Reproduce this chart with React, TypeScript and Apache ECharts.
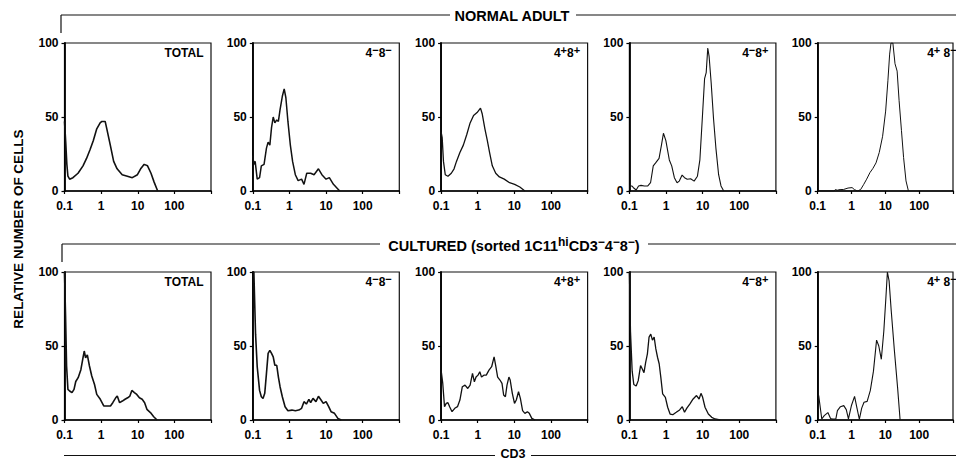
import React, { useEffect, useRef } from "react";
import * as echarts from "echarts";

type Pt = [number, number];

// Panel labels (rich text: {s|..} = superscript)
const panelLabels = ["TOTAL", "4{s|−}8{s|−}", "4{s|+}8{s|+}", "4{s|−}8{s|+}", "4{s|+} 8{s|−}"];
const rowTitles = ["NORMAL ADULT", "CULTURED (sorted 1C11{s|hi}CD3{s|−}4{s|−}8{s|−})"];
const xAxisTitle = "CD3";
const yAxisTitle = "RELATIVE NUMBER OF CELLS";
const yTicks = [0, 50, 100];

// ---- NORMAL ADULT ----
const normalTotal: Pt[] = [
  [0.1, 47], [0.104, 40], [0.108, 33], [0.116, 18], [0.124, 10], [0.138, 8], [0.17, 9], [0.234, 12],
  [0.32, 17], [0.4, 22], [0.5, 28], [0.61, 34], [0.76, 42], [0.94, 46], [1.05, 47], [1.16, 47],
  [1.29, 47], [1.43, 42], [1.78, 31], [2.2, 20], [2.73, 15], [3.76, 11], [5.2, 10], [7.1, 9],
  [9.8, 11], [12, 15], [15, 18], [18.5, 17], [23, 12], [28, 6], [35, 0],
];
const normalDN: Pt[] = [
  [0.1, 24], [0.107, 18], [0.116, 20], [0.132, 8], [0.153, 9], [0.171, 17], [0.203, 18], [0.236, 29],
  [0.262, 33], [0.292, 31], [0.325, 43], [0.361, 50], [0.4, 46], [0.45, 48], [0.5, 47], [0.555, 55],
  [0.64, 64], [0.72, 69], [0.8, 63], [0.91, 47], [1.06, 31], [1.22, 20], [1.45, 11], [1.73, 7],
  [2.15, 8], [2.5, 4.5], [2.97, 12], [3.8, 12], [4.7, 11], [6.2, 15], [7.7, 11], [10, 8],
  [12.3, 9], [15.9, 4.5], [23.6, 0],
];
const normalDP: Pt[] = [
  [0.1, 40], [0.107, 36], [0.116, 20], [0.13, 11], [0.154, 10], [0.19, 12], [0.226, 15], [0.263, 20],
  [0.326, 26], [0.405, 31], [0.5, 38], [0.62, 46], [0.77, 51], [0.96, 53], [1.19, 56], [1.33, 52],
  [1.57, 42], [1.83, 34], [2.11, 26], [2.5, 17], [3.1, 12], [3.9, 9.5], [5.3, 8], [7.4, 5.6],
  [10.2, 4.5], [14.1, 2.7], [19.4, 0],
];
const normalCD8: Pt[] = [
  [0.1, 3.4], [0.116, 3.4], [0.129, 2.2], [0.153, 0.7], [0.178, 3.4], [0.207, 3.8], [0.257, 3.4],
  [0.318, 3.4], [0.378, 5.6], [0.448, 17], [0.52, 19], [0.645, 22], [0.75, 31], [0.85, 39], [0.99, 34],
  [1.23, 21], [1.43, 17], [1.69, 9], [2.0, 5.6], [2.3, 6.7], [2.75, 10.8], [3.2, 9], [3.8, 7.9],
  [4.7, 8.3], [5.85, 6.7], [7.2, 10], [8.4, 21], [10, 53], [11.3, 76], [12.5, 80], [13.8, 96.6],
  [15, 91], [17.1, 73], [19.8, 49], [23, 29], [27.3, 11], [31.7, 3.4], [37.6, 0],
];
const normalCD4: Pt[] = [
  [0.1, 0], [0.3, 0], [0.337, 1], [0.375, 0.5], [0.46, 1], [0.575, 1], [0.79, 2], [1.04, 2.3],
  [1.21, 1], [1.5, 0], [1.86, 1], [2.3, 4.5], [2.8, 8], [3.5, 12.4], [4.3, 15.3], [5.3, 19],
  [6.6, 26], [8.3, 37], [10.2, 54], [11.9, 74.5], [13.4, 92.5], [14.7, 100], [16.7, 100], [19.3, 86],
  [22.3, 81], [25.5, 61], [29.9, 41], [34.6, 22.6], [40.8, 6.8], [48.1, 0],
];

// ---- CULTURED ----
const culturedTotal: Pt[] = [
  [0.1, 100], [0.107, 70], [0.114, 36.5], [0.124, 20.7], [0.138, 19.6], [0.16, 18.5], [0.182, 20.7],
  [0.203, 26], [0.236, 28.6], [0.28, 34], [0.325, 43], [0.346, 46.6], [0.377, 42], [0.42, 44],
  [0.48, 36.5], [0.555, 29.7], [0.66, 24], [0.76, 17.3], [0.95, 14], [1.18, 9.5], [1.45, 9.5],
  [1.8, 9.5], [2.08, 11.7], [2.5, 15], [2.76, 16.2], [3.2, 11.7], [3.8, 12.8], [4.5, 14], [5.3, 15],
  [6.1, 16.2], [6.9, 20], [8.1, 18.5], [9.4, 17.3], [11.1, 15], [13.2, 14], [15.4, 11.7], [17.8, 7.2],
  [22.2, 5], [27.3, 2.2], [33.7, 0],
];
const culturedDN: Pt[] = [
  [0.1, 100], [0.107, 100], [0.111, 85], [0.119, 58], [0.132, 36], [0.153, 20], [0.171, 15.7],
  [0.19, 14.6], [0.212, 18], [0.236, 31.5], [0.262, 45], [0.292, 47], [0.325, 45], [0.361, 42.7],
  [0.4, 37], [0.45, 37], [0.5, 29], [0.555, 22.5], [0.64, 15.7], [0.76, 9], [0.91, 6.3], [1.17, 6.7],
  [1.45, 6.3], [1.8, 6.7], [2.15, 7.9], [2.5, 12.4], [2.9, 10.8], [3.4, 14], [3.8, 11.7], [4.4, 14.6],
  [5.3, 12.4], [6.2, 16], [7.3, 13.5], [8.4, 11.2], [10, 12.4], [11.8, 9], [13.7, 5.6], [17, 4.5],
  [21, 1.1], [26, 0],
];
const culturedDP: Pt[] = [
  [0.1, 33.7], [0.111, 24.7], [0.124, 9], [0.138, 11.2], [0.154, 11.7], [0.171, 9], [0.199, 5.6],
  [0.236, 7.9], [0.28, 9], [0.326, 13.5], [0.38, 22.5], [0.45, 23.6], [0.535, 21.3], [0.62, 23.6],
  [0.72, 31.5], [0.81, 25.8], [0.9, 29], [1.02, 30.3], [1.14, 32.6], [1.27, 29], [1.47, 30.3],
  [1.71, 30.3], [2.03, 33.7], [2.4, 36], [2.8, 42.7], [3.13, 36], [3.5, 29], [4.05, 27], [4.6, 24.7],
  [5.1, 16.9], [5.7, 15.7], [6.3, 23.6], [7.1, 29], [7.7, 27], [8.8, 18], [10.1, 11.2], [11.3, 13.5],
  [13, 19.1], [14.6, 14.6], [16.8, 6.3], [19.4, 4.5], [22.7, 5.6], [25.6, 4.5], [30, 1.1], [37, 0],
];
const culturedCD8: Pt[] = [
  [0.1, 100], [0.107, 60], [0.119, 33], [0.132, 24], [0.153, 23], [0.174, 26.6], [0.202, 36.8],
  [0.225, 34.5], [0.25, 32], [0.278, 39], [0.31, 44.7], [0.344, 56], [0.383, 58], [0.426, 54],
  [0.474, 56], [0.527, 48], [0.586, 42.4], [0.65, 38], [0.72, 29], [0.81, 17.6], [0.96, 15.3],
  [1.11, 8.6], [1.29, 4], [1.53, 3.6], [1.9, 5.2], [2.35, 6.8], [2.78, 9], [3.2, 5.2], [3.7, 8],
  [4.45, 10.8], [5.5, 14.2], [6.8, 16.5], [8, 14.2], [9, 18], [10, 15.3], [11.6, 8.6], [14.3, 4],
  [17.7, 1.8], [21.9, 0.7], [30, 0],
];
const culturedCD4: Pt[] = [
  [0.1, 17], [0.107, 16.5], [0.132, 0.7], [0.156, 3], [0.2, 5], [0.24, 1], [0.278, 0.7], [0.344, 0.7],
  [0.383, 6.3], [0.47, 9], [0.59, 9.7], [0.7, 7], [0.81, 0.7], [1.0, 10], [1.23, 16], [1.45, 8],
  [1.7, 0.5], [2.0, 8], [2.34, 12], [2.9, 12.6], [3.6, 20], [4.45, 33], [5.5, 54], [6.4, 50],
  [7.6, 41], [9.0, 60], [10.4, 83], [11.5, 100], [12.9, 94], [14.9, 74], [18.5, 47], [23, 22],
  [27.3, 0],
];

const panels: Pt[][] = [
  normalTotal, normalDN, normalDP, normalCD8, normalCD4,
  culturedTotal, culturedDN, culturedDP, culturedCD8, culturedCD4,
];

const FONT = "'Liberation Sans', Arial, Helvetica, sans-serif";

export default function App() {
  const ref = useRef<HTMLDivElement>(null);

  useEffect(() => {
    if (!ref.current) return;
    const chart = echarts.init(ref.current, null, { renderer: "svg" });

    const lefts = [64.5, 252.8, 441.1, 629.4, 817.7];
    const tops = [43, 272];
    const W = 146.5;
    const H = 148;
    const lineWidths = [1.6, 1.5, 1.3, 1.1, 1.0, 1.6, 1.6, 1.3, 1.3, 1.1];

    const grids: any[] = [];
    const xAxes: any[] = [];
    const yAxes: any[] = [];
    const series: any[] = [];
    const graphic: any[] = [];

    const sup = {
      fontSize: 11, fontWeight: "bold", fontFamily: FONT, verticalAlign: "top", lineHeight: 11,
      fill: "#000", color: "#000",
    };

    panels.forEach((data, i) => {
      const r = Math.floor(i / 5);
      const c = i % 5;
      grids.push({
        left: lefts[c], top: tops[r], width: W, height: H,
        show: true, borderColor: "#111", borderWidth: 1.2, backgroundColor: "transparent",
        containLabel: false,
      });
      xAxes.push({
        type: "log", logBase: 10, min: 0.1, max: 1000, gridIndex: i,
        splitNumber: 4,
        axisLine: { show: true, lineStyle: { color: "#000", width: 1.6 } },
        axisTick: { show: true, inside: false, length: 3, lineStyle: { color: "#000", width: 1.2 } },
        splitLine: { show: false },
        axisLabel: {
          show: true, margin: 9, color: "#000", fontSize: 12, fontWeight: "bold", fontFamily: FONT,
          formatter: (v: number) => {
            const n = Number(Number(v).toPrecision(3));
            return n >= 1000 ? "" : String(n);
          },
        },
      });
      yAxes.push({
        type: "value", min: 0, max: 100, interval: 50, gridIndex: i,
        axisLine: { show: true, lineStyle: { color: "#000", width: 1.8 } },
        axisTick: { show: true, inside: false, length: 3, lineStyle: { color: "#000", width: 1.2 } },
        splitLine: { show: false },
        axisLabel: {
          show: true, margin: 6, color: "#000", fontSize: 12, fontWeight: "bold", fontFamily: FONT,
          formatter: (v: number) => (yTicks.includes(v) ? String(v) : ""),
        },
      });
      series.push({
        type: "line", xAxisIndex: i, yAxisIndex: i, data, showSymbol: false, symbol: "none",
        smooth: false, clip: true,
        lineStyle: { color: "#111", width: lineWidths[i] },
      });
      graphic.push({
        type: "text", x: lefts[c] + 139, y: tops[r] + 10,
        style: {
          text: panelLabels[c], textAlign: "right", textVerticalAlign: "middle",
          fontSize: 12, lineHeight: 17, fontWeight: "bold", fontFamily: FONT, fill: "#000",
          rich: { s: sup },
        },
      });
    });

    const lineStyle = { stroke: "#111", lineWidth: 1.2 };
    graphic.push(
      // Row 1 header
      { type: "line", shape: { x1: 61, y1: 15, x2: 450, y2: 15 }, style: lineStyle },
      { type: "line", shape: { x1: 576, y1: 15, x2: 956, y2: 15 }, style: lineStyle },
      { type: "line", shape: { x1: 61, y1: 15, x2: 61, y2: 33 }, style: lineStyle },
      {
        type: "text", x: 512, y: 16,
        style: { text: rowTitles[0], textAlign: "center", textVerticalAlign: "middle", fontSize: 14.5, fontWeight: "bold", fontFamily: FONT, fill: "#000" },
      },
      // Row 2 header
      { type: "line", shape: { x1: 62, y1: 244, x2: 380, y2: 244 }, style: lineStyle },
      { type: "line", shape: { x1: 648, y1: 244, x2: 956, y2: 244 }, style: lineStyle },
      { type: "line", shape: { x1: 62, y1: 244, x2: 62, y2: 262 }, style: lineStyle },
      {
        type: "text", x: 514, y: 246,
        style: {
          text: rowTitles[1], textAlign: "center", textVerticalAlign: "middle", fontSize: 14.5, lineHeight: 20,
          fontWeight: "bold", fontFamily: FONT, fill: "#000",
          rich: { s: { fontSize: 12, lineHeight: 12, fontWeight: "bold", fontFamily: FONT, verticalAlign: "top", fill: "#000" } },
        },
      },
      // Bottom CD3 axis title
      { type: "line", shape: { x1: 64, y1: 455.5, x2: 495, y2: 455.5 }, style: lineStyle },
      { type: "line", shape: { x1: 531, y1: 455.5, x2: 956, y2: 455.5 }, style: lineStyle },
      {
        type: "text", x: 513, y: 454,
        style: { text: xAxisTitle, textAlign: "center", textVerticalAlign: "middle", fontSize: 12.5, fontWeight: "bold", fontFamily: FONT, fill: "#000" },
      },
      // Y axis title
      {
        type: "text", x: 18, y: 229, rotation: Math.PI / 2,
        style: { text: yAxisTitle, textAlign: "center", textVerticalAlign: "middle", fontSize: 13.5, fontWeight: "bold", fontFamily: FONT, fill: "#000" },
      },
    );

    chart.setOption({
      animation: false,
      backgroundColor: "#fff",
      grid: grids,
      xAxis: xAxes,
      yAxis: yAxes,
      series,
      graphic,
    });

    return () => chart.dispose();
  }, []);

  return (
    <div
      ref={ref}
      style={{ position: "fixed", left: 0, top: 0, width: 956, height: 461, background: "#fff" }}
    />
  );
}
